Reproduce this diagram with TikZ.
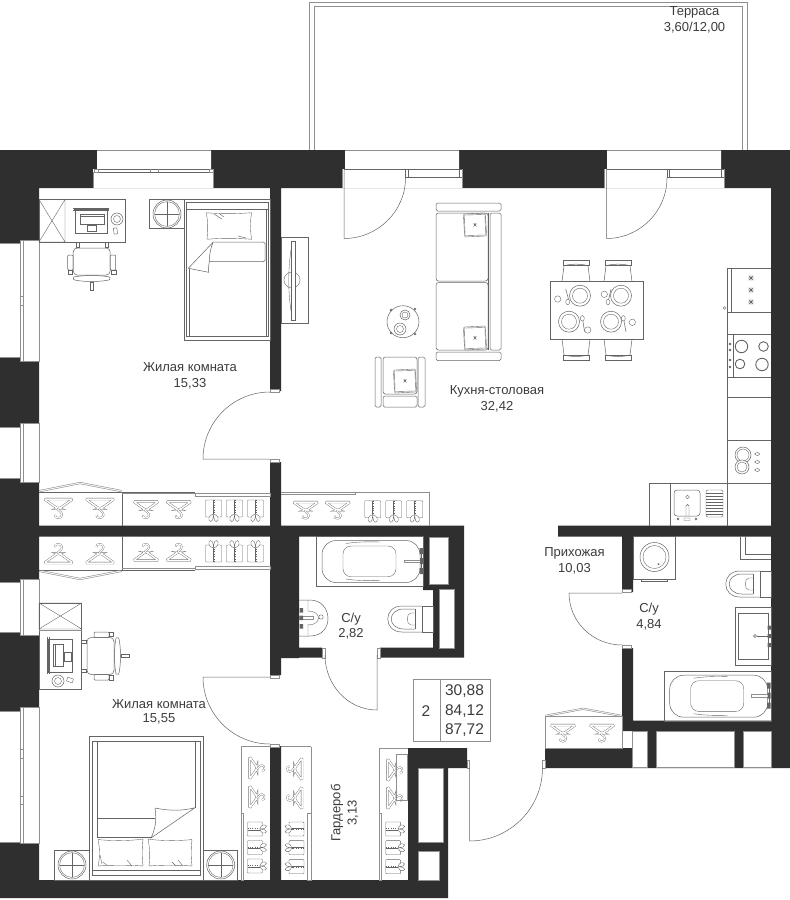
\documentclass[tikz,border=0pt]{standalone}
\usepackage{fontspec}
\setmainfont{Liberation Sans}
\usetikzlibrary{calc}
\definecolor{wallc}{HTML}{2F2F2F}
\definecolor{linec}{HTML}{646464}
\definecolor{softc}{HTML}{8F8F8F}
\definecolor{textc}{HTML}{3C3C3C}
\tikzset{
  wall/.style={fill=wallc},
  ln/.style={draw=linec,line width=0.5pt},
  sn/.style={draw=softc,line width=0.8pt},
  thn/.style={draw=linec,line width=0.38pt},
  wf/.style={fill=white,draw=softc,line width=0.6pt},
  lbl/.style={text=textc,font=\fontsize{13}{15}\selectfont,inner sep=0pt},
  tbl/.style={text=textc,font=\fontsize{15.5}{18}\selectfont,inner sep=0pt},
  hanger/.pic={
    \draw[draw=linec,double=white,double distance=1.5pt,line width=0.36pt,rounded corners=1.6pt]
      (-14.5,0)--(14.5,0)--(1,9.5)--(-1,9.5)--cycle;
    \draw[draw=linec,double=white,double distance=1.1pt,line width=0.32pt]
      (0,9.5) .. controls (-3,11) and (4,12) .. (3.5,16) .. controls (3,20) and (-4,20) .. (-3.5,16);
  },
  shirt/.pic={
    \draw[thn,rounded corners=0.8pt] (-8,0) rectangle (8,17);
    \draw[thn] (-0.8,0)--(-0.8,14);
    \draw[draw=linec,line width=0.5pt,dash pattern=on 1pt off 1.4pt] (0.8,0)--(0.8,14);
    \draw[thn,fill=white] (0,14) .. controls (-5,15) and (-6,20) .. (-3,21.5) .. controls (-1,21.5) and (0,18) .. (0,15)
               .. controls (0,18) and (1,21.5) .. (3,21.5) .. controls (6,20) and (5,15) .. (0,14);
  },
  lamp/.pic={
    \draw[ln] (0,0) circle (14);
    \draw[thn] (0,0) circle (12.4);
    \draw[thn] (-12.4,0)--(12.4,0) (0,-12.4)--(0,12.4);
  },
  cushion/.pic={
    \draw[thn,rounded corners=1pt] (-11,-11.5) rectangle (11,11.5);
    \draw[thn] (-10,-10.5)--(10.5,-10) -- (10,10.5)--(-10.5,10)--cycle;
    \draw[line width=0.5pt,draw=linec] (-1.5,-1.5)--(1.5,1.5) (-1.5,1.5)--(1.5,-1.5) (0,-2)--(0,0);
  },
  officechair/.pic={
    \draw[thn] (-16,-2) rectangle (-13,3) (13,-2) rectangle (16,3);
    \draw[ln,rounded corners=4pt] (-18.5,4) rectangle (18.5,31);
    \draw[ln,rounded corners=1pt] (-24,11) rectangle (-18.5,26) (18.5,11) rectangle (24,26);
    \draw[thn] (-24,26) rectangle (-19.5,30) (19.5,26) rectangle (24,30);
    \draw[ln] (-18,33) .. controls (-8,31) and (8,31) .. (18,33) .. controls (19,35) and (18,36) .. (17,36)
       .. controls (8,38) and (-8,38) .. (-17,36) .. controls (-18,36) and (-19,35) .. (-18,33);
    \draw[ln] (-1.5,38) rectangle (1.5,46);
  },
  dchair/.pic={
    \draw[ln] (-13,-21) rectangle (13,-16.5);
    \draw[ln] (-14,0)--(-12,-16) .. controls (-5,-18) and (5,-18) .. (12,-16)--(14,0);
  },
  star/.pic={
    \draw[line width=0.4pt,draw=linec] (-3.2,0)--(3.2,0) (0,-3.2)--(0,3.2) (-2.3,-2.3)--(2.3,2.3) (-2.3,2.3)--(2.3,-2.3);
    \draw[thn,fill=linec] (0,0) circle (1.2);
  },
  toilet/.pic={
    \draw[thn] (0,-13) rectangle (11,13);
    \draw[ln] (0,-13)--(-20,-13) .. controls (-39,-13) and (-39,13) .. (-20,13)--(0,13);
    \draw[ln] (-7,-10)--(-18,-10) .. controls (-35,-10) and (-35,10) .. (-18,10)--(-7,10);
    \draw[thn] (-7,-10)--(-7,10);
    \draw[thn] (-7,-6)--(-11,-6) .. controls (-16,-6) and (-16,6) .. (-11,6)--(-7,6);
  },
  tub/.pic={
    \draw[thn] (0,0) rectangle (107,50.5);
    \draw[ln,rounded corners=14pt] (6,4.5) rectangle (104,46.5);
    \draw[thn,rounded corners=8pt] (27,10) rectangle (80,40.7);
    \draw[thn] (30,7.5) .. controls (40,6) and (50,5.5) .. (64,6);
    \draw[thn] (30,43) .. controls (40,44.5) and (50,45) .. (64,44.5);
    \draw[wf] (88,24) rectangle (105,26.5);
    \fill[linec] (103.5,12) rectangle (107,18) (103.5,32) rectangle (107,38) (104,22) rectangle (107,28);
    \draw[thn] (105,15)--(105,35);
  },
}
\begin{document}
\begin{tikzpicture}[x=1pt,y=-1pt]
\useasboundingbox (0,0) rectangle (790,900);
\fill[white] (0,0) rectangle (790,900);
% terrace
\draw[sn,line width=0.9pt] (309.5,150)--(309.5,2.7)--(747.5,2.7)--(747.5,150);
\draw[sn,line width=0.9pt] (314,150)--(314,6.7)--(742.7,6.7)--(742.7,150);
% walls
\fill[wall]
 (0,150) rectangle (790,188)
 (0,188) rectangle (39,898)
 (771,188) rectangle (790,768)
 (270,188) rectangle (281,391)
 (270,462) rectangle (281,526)
 (0,525.7) rectangle (464,536.7)
 (270,536) rectangle (299,658)
 (270,658) rectangle (281,675)
 (270,746) rectangle (281,880)
 (0,880) rectangle (448,898)
 (299,647.7) rectangle (322,657.7)
 (380,647.7) rectangle (464,657.7)
 (423,536) rectangle (464,590)
 (433,590) rectangle (464,648)
 (558,525.7) rectangle (771,536.7)
 (622,536) rectangle (633,592)
 (622,648) rectangle (633,731)
 (622,720.7) rectangle (771,731)
 (545,748) rectangle (633,768)
 (632,731) rectangle (771,768)
 (408,748) rectangle (467,768)
 (408,768) rectangle (418,880)
 (443,768) rectangle (448,880)
 (418,842) rectangle (443,851)
 (439,851) rectangle (443,880);
% shafts
\draw[wf] (429,537) rectangle (448,584);
\draw[wf] (439,589) rectangle (454,648);
\draw[wf] (632.7,731) rectangle (647,767);
\draw[wf] (656,731) rectangle (734,767);
\draw[wf] (743,731) rectangle (771,767);
\draw[wf] (418,768) rectangle (443,842);
\draw[wf] (418,851) rectangle (439,880);
% windows top
\foreach \a/\b/\c/\d in {93/97/211/213,342/345/459/462,604/607/721/724}{
  \fill[white] (\b,150.4) rectangle (\c,169) (\a,169) rectangle (\d,188);
  \draw[softc,line width=0.6pt] (\b,150.4)--(\c,150.4);
}
\draw[ln,fill=white] (94,169) rectangle (213,172);
\draw[sn,line width=0.5pt] (94,169) rectangle (98,172) (209,169) rectangle (213,172) (150,169)--(150,172) (158,169)--(158,172);
\draw[softc,line width=0.6pt] (93,188)--(93,172) (213,188)--(213,172);
\foreach \a/\b/\c in {344/405.5/462,606.5/667/724}{
  \draw[ln] (\a,169) -- (\c,169);
  \draw[ln] (\b,177.5) -- (\c,177.5);
  \draw[ln] (\b,169)--(\b,178) (\b+2.5,169)--(\b+2.5,177.5) (\c-3,169)--(\c-3,177.5);
  \draw[softc,line width=0.6pt] (\a-2,169)--(\a-2,188) (\c,169)--(\c,188);
}
\draw[ln] (344,169)--(344,238.5) .. controls (378,238.5) and (405.5,211) .. (405.5,178);
\draw[ln] (606.5,169)--(606.5,238.5) .. controls (640,238.5) and (667,211) .. (667,178);
% windows left
\foreach \a/\b/\c/\d in {240/243/357/361,423/427/478/482,579/582/632/635,707/711/842/843}{
  \draw[wf] (-1,\b) rectangle (20,\c);
  \draw[wf] (23,\a) rectangle (39,\d);
  \fill[white] (20,\a) rectangle (23,\d);
  \draw[wf,fill=none] (20,\a) rectangle (23,\d);
}
\draw[softc,line width=0.5pt] (20,296)--(23,296) (20,305)--(23,305) (20,749)--(23,749) (20,758)--(23,758) (20,796)--(23,796) (20,804)--(23,804);
% door stubs
\draw[wf] (270,389.5) rectangle (279,392.5);
\draw[wf] (270,459.5) rectangle (279,462.5);
\draw[wf] (270,675) rectangle (279,678);
\draw[wf] (270,744) rectangle (279,747);
\draw[wf] (322,648.5) rectangle (325,658);
\draw[wf] (377,648.5) rectangle (380,658);
\draw[wf] (622.5,589) rectangle (631,592.5);
\draw[wf] (622.5,645.5) rectangle (631,648.5);
\draw[wf] (467,760) rectangle (469.5,768);
\draw[wf] (542.5,760) rectangle (545,768);
% door leaves
\draw[ln] (270,459)--(203,459) .. controls (203,422) and (233,392) .. (270,392);
\draw[ln] (270,677)--(203,677) .. controls (203,714) and (233,744) .. (270,744);
\draw[ln] (377,655)--(377,710) .. controls (348,710) and (325,685) .. (325,655);
\draw[ln] (622,593)--(569,593) .. controls (569,622) and (593,645) .. (622,645);
\draw[ln] (469.5,768)--(469.5,841) .. controls (510,841) and (542.5,808) .. (542.5,768);
% ================ bedroom 1
\draw[ln] (39,199.5) rectangle (125,242);
\draw[thn] (39,199.5) rectangle (65,242) (39,199.5)--(65,242) (39,242)--(65,199.5);
\draw[ln] (75,209) rectangle (107,233);
\draw[thn] (73,208)--(109,208) (73,210)--(109,210) (74,208)--(74,210) (108,208)--(108,210);
\draw[thn] (80,214) rectangle (104,224) (80,216)--(104,216) (87,225) rectangle (96,231);
\draw[ln] (117,219) circle (6);
\draw[thn] (117,219) circle (3.5);
\draw[thn,rotate around={10:(115.5,231)}] (113.7,228) rectangle (117.3,234);
\pic at (91.7,244) {officechair};
\draw[ln] (149.5,199.5) rectangle (184,228);
\pic at (167,214) {lamp};
\draw[ln] (184,199.3) rectangle (270,340);
\draw[ln] (186.7,202.7)--(268.3,202.7)--(268.3,336)--(186.7,336)--cycle;
\draw[ln] (186.7,209.3)--(268.3,209.3);
\draw[thn] (189.3,269)--(189.3,336) (265.7,209.3)--(265.7,336);
\draw[thn] (206.3,212.7) .. controls (220,214) and (235,214) .. (251.7,212.7) .. controls (250,222) and (250,230) .. (251.7,239.3)
  .. controls (235,238) and (220,238) .. (207,239.3) .. controls (208,230) and (208,222) .. (206.3,212.7);
\draw[thn] (214,214)--(222,219) (219,213.5)--(224,217) (238,236)--(246,238);
\draw[ln,rounded corners=1.5pt] (213,242)--(265,242)--(265,261.7)--(209.3,261.7);
\draw[ln] (213,242.3)--(188.3,268.3)--(208.7,272.3) .. controls (208,268) and (209,265) .. (209.3,261.7) .. controls (209.5,252) and (211,248) .. (213,242.3);
% closets bedroom 1 and 2
\foreach \flip/\base in {1/492,-1/570}{
  \begin{scope}[shift={(0,\base)},yscale=\flip]
    \draw[thn] (39,0)--(122,0)--(122,34);
    \draw[sn,line width=0.5pt] (39,0)--(80,-8.2)--(122,0);
    \draw[sn,line width=0.5pt] (39,-1.6)--(80,-9.8)--(122,-1.6);
    \draw[ln] (122,0)--(195,0);
    \draw[softc,line width=0.6pt] (122,1.6)--(195,1.6);
    \draw[softc,line width=0.6pt] (195,1.2) rectangle (270,3.8);
  \end{scope}
  \pic[yscale=\flip] at (58.5,{\base+\flip*7}) {hanger};
  \pic[yscale=\flip] at (100,{\base+\flip*7}) {hanger};
  \pic[yscale=\flip,scale=0.87] at (146,{\base+\flip*9.5}) {hanger};
  \pic[yscale=\flip,scale=0.87] at (178.7,{\base+\flip*9.5}) {hanger};
  \pic[yscale=\flip] at (213.5,{\base+\flip*8}) {shirt};
  \pic[yscale=\flip] at (234.5,{\base+\flip*8}) {shirt};
  \pic[yscale=\flip] at (255.5,{\base+\flip*8}) {shirt};
}
% kitchen closet
\draw[softc,line width=0.7pt] (281,492)--(429,492)--(429,526) (281,494)--(355,494)--(355,492);
\pic[scale=0.87] at (305.7,502) {hanger};
\pic[scale=0.87] at (337.7,502) {hanger};
\pic at (372.7,500.7) {shirt};
\pic at (393.7,500.7) {shirt};
\pic at (414.7,500.7) {shirt};
% bedroom 2 desk
\draw[ln] (39,603) rectangle (81.7,689);
\draw[thn] (39,603) rectangle (81.7,629) (39,603)--(81.7,629) (39,629)--(81.7,603);
\draw[sn,line width=0.5pt] (39,630.5)--(81.7,630.5);
\draw[ln] (48,639) rectangle (72,672);
\draw[thn] (47,637)--(47,674) (49,637)--(49,674);
\draw[thn] (53,644) rectangle (63,666) (55,644)--(55,666) (64,652) rectangle (71,661);
\draw[ln] (58,681) circle (6);
\draw[thn] (58,681) circle (3.5);
\draw[thn,rotate around={70:(70,680)}] (68,677) rectangle (72,683);
\pic[rotate=90] at (83,656) {officechair};
% bed 2
\draw[ln] (89,736.7) rectangle (203,880);
\draw[ln] (92,741)--(200,741)--(200,875)--(92,875)--cycle;
\draw[ln] (92,870)--(200,870);
\draw[thn] (96.7,741)--(96.7,838) (195,741)--(195,807.7);
\draw[thn] (96.7,818)--(155,818);
\draw[ln] (96.7,837.7)--(151,837.7);
\draw[ln] (155,808) .. controls (170,811) and (182,811) .. (195,807.7) -- (151,838) .. controls (155,830) and (157,820) .. (155,808);
\draw[thn] (98,839.5) .. controls (110,841) and (130,841) .. (143,839) .. controls (142,848) and (142,858) .. (143,866)
   .. controls (130,865) and (110,865) .. (98,866) .. controls (100,858) and (100,848) .. (98,839.5);
\draw[thn] (148,839) .. controls (160,841) and (180,841) .. (192,839.5) .. controls (191,848) and (191,858) .. (192,866)
   .. controls (180,865) and (160,865) .. (149,866) .. controls (150,858) and (150,848) .. (148,839);
\draw[thn] (103,862)--(108,866) (127,860)--(132,866) (178,860)--(183,866) (172,862)--(176,866) (100,855)--(102,864);
\draw[ln] (54.5,850.7) rectangle (89,880);
\draw[ln] (203,850.7) rectangle (237.7,880);
\pic at (72,865) {lamp};
\pic at (220.7,865) {lamp};
% wardrobes lower
\draw[softc,line width=0.6pt] (241,746.7)--(270,746.7);
\draw[softc,line width=1pt] (241,746.7)--(241,813);
\draw[softc,line width=0.6pt] (241,813) rectangle (243.5,880);
\pic[rotate=90,scale=0.78] at (249.5,768) {hanger};
\pic[rotate=90,scale=0.78] at (249.5,797) {hanger};
\pic[rotate=90,scale=0.88] at (247.5,829) {shirt};
\pic[rotate=90,scale=0.88] at (247.5,847.5) {shirt};
\pic[rotate=90,scale=0.88] at (247.5,866) {shirt};
\draw[softc,line width=0.6pt] (281,746.7)--(311,746.7);
\draw[softc,line width=1pt] (311,746.7)--(311,813);
\draw[softc,line width=0.6pt] (307.5,813) rectangle (311,880);
\pic[rotate=-90,scale=0.78] at (302,769) {hanger};
\pic[rotate=-90,scale=0.78] at (302,798) {hanger};
\pic[rotate=-90,scale=0.88] at (304,829) {shirt};
\pic[rotate=-90,scale=0.88] at (304,847.7) {shirt};
\pic[rotate=-90,scale=0.88] at (304,866.7) {shirt};
\draw[softc,line width=0.6pt] (379,748)--(408,748);
\draw[softc,line width=1pt] (379,748)--(379,813);
\draw[softc,line width=0.6pt] (379,813) rectangle (381.5,880);
\pic[rotate=90,scale=0.78] at (387.5,770) {hanger};
\pic[rotate=90,scale=0.78] at (387.5,798) {hanger};
\pic[rotate=90,scale=0.88] at (385.7,829) {shirt};
\pic[rotate=90,scale=0.88] at (385.7,847.7) {shirt};
\pic[rotate=90,scale=0.88] at (385.7,866.7) {shirt};
\draw[draw=softc,line width=1pt] (396,754) rectangle (407.5,800);
% entry closet
\draw[softc,line width=0.6pt] (545,716.7) rectangle (622,748);
\draw[softc,line width=0.5pt] (545,716.7)--(583,709.5)--(622,716.7) (545,715.2)--(583,708)--(622,715.2);
\pic[scale=0.87] at (563,725) {hanger};
\pic[scale=0.87] at (602,725) {hanger};
% ================ kitchen
\draw[thn] (281,237) rectangle (308,323);
\draw[thn] (292,280) circle (8);
\draw[ln,fill=white] (291,241) rectangle (295,320);
\draw[thn] (291,250) .. controls (288,270) and (288,290) .. (291,311);
% sofa
\draw[ln,rounded corners=1.5pt] (436,203) rectangle (501,211);
\draw[ln,rounded corners=1.5pt] (436,352) rectangle (501,360.5);
\draw[ln,rounded corners=2.5pt] (436,213) rectangle (488,281);
\draw[ln,rounded corners=2.5pt] (436,282.5) rectangle (488,350);
\draw[ln,rounded corners=1.5pt] (490,213) rectangle (501,350);
\draw[thn] (488.5,213)--(488.5,350);
\pic[rotate=3] at (475,225) {cushion};
\pic[rotate=3] at (475,338) {cushion};
% coffee table
\draw[ln] (403,321.7) circle (16);
\draw[ln] (405,315) circle (5); \draw[thn] (405,315) circle (3);
\draw[ln] (400,329) circle (6); \draw[thn] (400,329) circle (3.5);
\foreach \x/\y in {391/310,415/309,391/333,415/334}{\draw[thn] (\x,\y) circle (1);}
% armchair
\draw[ln,rounded corners=1.5pt] (375,357) rectangle (381,407);
\draw[ln,rounded corners=1.5pt] (418,357) rectangle (425,407);
\draw[ln,rounded corners=2.5pt] (383,357) rectangle (417,394);
\draw[ln,rounded corners=1.5pt] (383,396) rectangle (417,407);
\pic[rotate=3] at (405,381) {cushion};
% dining
\pic at (576,281.7) {dchair};
\pic at (618,281.7) {dchair};
\pic[yscale=-1] at (576,339) {dchair};
\pic[yscale=-1] at (618,339) {dchair};
\draw[ln] (550.5,281.7) rectangle (643.5,339);
\foreach \x/\y in {580/295.7,621/295.7,569/321.7,611/321.7}{
  \draw[ln] (\x,\y) circle (10.5); \draw[thn] (\x,\y) circle (7.5);
}
\foreach \x/\y/\r in {557.7/299/3.2,604.3/294.3/3.2,587.7/330/3.2,632.3/322.3/3.2}{\draw[thn] (\x,\y) circle (\r);}
\draw[ln] (565.7,289)--(569,301) (611,289)--(608.5,300) (582.8,320)--(584.5,331.7) (623.8,320)--(626,332);
\foreach \x/\y in {567.7/302,608/302,582.3/318.3,623.3/318.3}{\draw[thn,fill=white] (\x,\y) ellipse (2 and 2.7);}
% kitchen units
\draw[thn] (727,268)--(727,526) (727,268)--(771,268) (727,311.7)--(771,311.7) (727,334)--(771,334) (727,377)--(771,377) (727,397)--(771,397) (727,440)--(771,440);
\draw[thn] (649.5,526)--(649.5,482.7)--(771,482.7) (670.5,482.7)--(670.5,526);
\draw[thn] (731,268)--(731,311.7);
\pic at (751,278) {star}; \pic at (751,290) {star}; \pic at (751,302) {star};
\draw[thn] (724.5,308) circle (1.3);
\draw[thn] (733.5,334)--(733.5,377);
\draw[line width=0.9pt,draw=linec] (741.5,346.5) circle (6.2) (763.5,346.5) circle (4.8) (740,364) circle (4.8) (762,364.5) circle (6.2);
\foreach \y in {344,350,360,367}{\fill[linec] (730,\y) circle (1.3);}
\draw[ln] (743,455) circle (8); \draw[thn] (743,455) circle (6);
\draw[ln,fill=white] (742,467) circle (7); \draw[thn] (742,467) circle (5);
\foreach \y in {454,462,470}{\draw[thn] (754.5,\y) .. controls (756,\y-2.5) and (759,\y-2) .. (760,\y) .. controls (759,\y+2) and (756,\y+2.5) .. (754.5,\y);}
\draw[ln,rounded corners=3pt] (674,490) rectangle (700,516);
\draw[thn,rounded corners=1.5pt] (706,490) rectangle (723,517);
\foreach \y in {493,496,...,514}{\draw[thn] (706,\y)--(723,\y);}
\draw[thn] (687.5,497) circle (1.8);
\draw[thn] (686,516)--(686,506) .. controls (686,504) and (689,504) .. (689,506) -- (689,516);
\draw[thn] (678,519) circle (1) (696,519) circle (1) (684,518) rectangle (690,520.5);
% ================ bathroom 2.82
\pic at (316,536) {tub};
\draw[ln] (299,600)--(310,600) .. controls (333,600) and (335,636) .. (310,636)--(299,636);
\draw[thn] (308,600)--(308,611) (308,624)--(308,636) (308,611) .. controls (322,611) and (322,625) .. (308,625);
\draw[thn] (321,617) circle (2.2);
\draw[wf] (299,616) rectangle (313,619);
\fill[linec] (299.5,608) rectangle (303,612.5) (299.5,615.5) rectangle (303,620) (299.5,624) rectangle (303,628.5);
\pic at (422,619) {toilet};
% ================ bathroom 4.84
\draw[ln] (633,536.7) rectangle (675.7,579);
\draw[ln] (654.5,557) circle (14.5);
\draw[thn] (654.5,557) circle (11.5);
\fill[linec] (658.5,564) circle (1);
\draw[thn] (641,579) rectangle (667,581.5);
\draw[thn] (740,536.7)--(740,559)--(771,559) (745,536.7)--(745,554)--(771,554);
\pic at (760,584) {toilet};
\draw[ln] (735,607) rectangle (771,665);
\draw[ln] (738,613) rectangle (768,659);
\draw[thn] (755,636) circle (1.5);
\draw[thn] (757,635.7)--(769,635.7);
\fill[linec] (767.5,625.5) rectangle (771,629.5) (767.5,634) rectangle (771,638) (767.5,643) rectangle (771,647);
\pic at (663.7,670.7) {tub};
% ================ text
\node[lbl] (t1a) at (190,367.5) {Жилая комната};
\node[lbl] (t1b) at (190,384) {15,33};
\node[lbl] (t2a) at (497,391) {Кухня-столовая};
\node[lbl] (t2b) at (497,407) {32,42};
\node[lbl] (t3a) at (574.5,553.5) {Прихожая};
\node[lbl] (t3b) at (574.5,568.5) {10,03};
\node[lbl] (t4a) at (351,619) {С/у};
\node[lbl] (t4b) at (351,634) {2,82};
\node[lbl] (t5a) at (649,609) {С/у};
\node[lbl] (t5b) at (649,625) {4,84};
\node[lbl] (t6a) at (159,704) {Жилая комната};
\node[lbl] (t6b) at (159,719) {15,55};
\node[lbl,rotate=90] (t7a) at (337,813) {Гардероб};
\node[lbl,rotate=90] (t7b) at (353,813) {3,13};
\node[lbl] (t8a) at (694.5,12) {Терраса};
\node[lbl] (t8b) at (694.5,27.5) {3,60/12,00};
% table
\draw[sn,line width=0.7pt] (413.3,679.3) rectangle (490,741);
\draw[sn,line width=0.7pt] (440.3,679.3)--(440.3,741);
\node[tbl] (n0) at (426,711) {2};
\node[tbl] (n1) at (464.5,691) {30,88};
\node[tbl] (n2) at (464.5,711) {84,12};
\node[tbl] (n3) at (464.5,730) {87,72};
\end{tikzpicture}
\end{document}
